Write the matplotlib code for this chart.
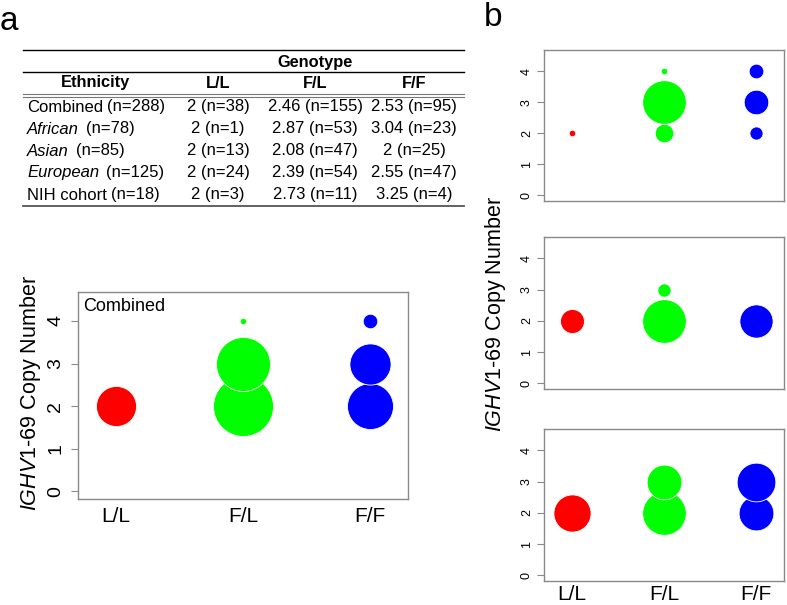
import matplotlib
matplotlib.use("Agg")
import matplotlib.pyplot as plt
import numpy as np
from matplotlib.lines import Line2D

plt.rcParams['font.family'] = ['Liberation Sans', 'DejaVu Sans']
plt.rcParams['mathtext.fontset'] = 'custom'
plt.rcParams['mathtext.rm'] = 'Liberation Sans'
plt.rcParams['mathtext.it'] = 'Liberation Sans:italic'

W, H = 787, 605
DPI = 100

# ---------------- data ----------------
genotypes = ["L/L", "F/L", "F/F"]
colors = ["#FF0000", "#00FF00", "#0000FF"]
copy_levels = [2, 3, 4]

# counts of individuals at copy number 2, 3, 4 for each genotype
combined_counts = {"L/L": [38, 0, 0], "F/L": [85, 69, 1], "F/F": [50, 40, 5]}
african_counts = {"L/L": [1, 0, 0], "F/L": [8, 44, 1], "F/F": [4, 14, 5]}
asian_counts = {"L/L": [13, 0, 0], "F/L": [43, 4, 0], "F/F": [25, 0, 0]}
european_counts = {"L/L": [24, 0, 0], "F/L": [33, 21, 0], "F/F": [21, 26, 0]}

table_header = ["Ethnicity", "L/L", "F/L", "F/F"]
table_ethnicity = ["Combined", "African", "Asian", "European", "NIH cohort"]
table_ethnicity_n = ["(n=288)", "(n=78)", "(n=85)", "(n=125)", "(n=18)"]
table_italic = [False, True, True, True, False]
table_LL = ["2 (n=38)", "2 (n=1)", "2 (n=13)", "2 (n=24)", "2 (n=3)"]
table_FL = ["2.46 (n=155)", "2.87 (n=53)", "2.08 (n=47)", "2.39 (n=54)", "2.73 (n=11)"]
table_FF = ["2.53 (n=95)", "3.04 (n=23)", "2 (n=25)", "2.55 (n=47)", "3.25 (n=4)"]

ylabel = r"$\mathit{IGHV1}$-$\mathit{69}$ Copy Number"

fig = plt.figure(figsize=(W / DPI, H / DPI), dpi=DPI)


def fx(x):
    return x / W


def fy(y):
    return 1 - y / H


def axes_px(x0, y0, x1, y1):
    return fig.add_axes([fx(x0), fy(y1), (x1 - x0) / W, (y1 - y0) / H])


def bubble(ax, counts, rmax_px, tick_fs, show_x, xt_fs, xpad=6,
           tlen=5, ypad=3):
    maxc = max(max(v) for v in counts.values())
    for i, g in enumerate(genotypes):
        for cn, c in zip(copy_levels, counts[g]):
            if c <= 0:
                continue
            r = rmax_px * np.sqrt(c / maxc)
            d_pt = 2 * r * 72 / DPI
            ax.scatter([i + 1], [cn], s=d_pt ** 2, color=colors[i],
                       edgecolors="white", linewidths=0.6, zorder=3)
    ax.set_xlim(0.7, 3.3)
    ax.set_ylim(-0.18, 4.68)
    ax.set_yticks([0, 1, 2, 3, 4])
    ax.set_yticklabels(["0", "1", "2", "3", "4"], rotation=90, va="center",
                       fontsize=tick_fs)
    ax.tick_params(axis="y", direction="out", length=tlen, width=0.8,
                   color="#888888", pad=ypad)
    ax.tick_params(axis="x", length=0)
    if show_x:
        ax.set_xticks([1, 2, 3])
        ax.set_xticklabels(genotypes, fontsize=xt_fs)
        ax.tick_params(axis="x", pad=xpad)
    else:
        ax.set_xticks([])
    for sp in ax.spines.values():
        sp.set_color("#888888")
        sp.set_linewidth(1.0)


# ---------------- panel labels ----------------
fig.text(fx(0), fy(21), "a", fontsize=24, va="center", ha="left")
fig.text(fx(484), fy(17), "b", fontsize=24, va="center", ha="left")

# ---------------- table ----------------
tl, tr = 23, 464
def hline(y, color="black", lw=1.0):
    fig.add_artist(Line2D([fx(tl), fx(tr)], [fy(y), fy(y)], color=color, lw=lw))

hline(50, "black", 1.0)
hline(72, "black", 1.0)
hline(93.5, "#777777", 0.8)
hline(96.5, "#777777", 0.8)
hline(206, "#555555", 1.3)

tfs = 12
hfs = 11.8
col_x = [95, 218, 315, 414]
fig.text(fx(315), fy(62), "Genotype", fontsize=hfs, fontweight="bold",
         ha="center", va="center")
for x, h in zip(col_x, table_header):
    fig.text(fx(x), fy(83), h, fontsize=hfs, fontweight="bold",
             ha="center", va="center")
row_y = [107, 129, 151, 173, 195]
fig.canvas.draw()
renderer = fig.canvas.get_renderer()
for k, y in enumerate(row_y):
    style = "italic" if table_italic[k] else "normal"
    t = fig.text(fx(27), fy(y), table_ethnicity[k], fontsize=tfs, style=style,
                 ha="left", va="center")
    bb = t.get_window_extent(renderer=renderer)
    gap = 7 if table_italic[k] else 4
    fig.text(fx(bb.x1 + gap), fy(y), table_ethnicity_n[k], fontsize=tfs,
             ha="left", va="center")
    fig.text(fx(col_x[1]), fy(y), table_LL[k], fontsize=tfs, ha="center", va="center")
    fig.text(fx(col_x[2]), fy(y), table_FL[k], fontsize=tfs, ha="center", va="center")
    fig.text(fx(col_x[3]), fy(y), table_FF[k], fontsize=tfs, ha="center", va="center")

# ---------------- panel a bubble ----------------
axa = axes_px(78, 292, 408, 499)
bubble(axa, combined_counts, 30, 14, True, 15, tlen=5, ypad=5)
axa.text(0.015, 0.97, "Combined", transform=axa.transAxes, fontsize=13,
         ha="left", va="top")
fig.text(fx(31), fy(393), ylabel, rotation=90, fontsize=15.5,
         ha="center", va="center")

# ---------------- panel b ----------------
axb1 = axes_px(544, 50, 784, 201)
bubble(axb1, african_counts, 21.8, 9, False, 15)
axb2 = axes_px(544, 237, 784, 389)
bubble(axb2, asian_counts, 21.8, 9, False, 15)
axb3 = axes_px(544, 429, 784, 581)
bubble(axb3, european_counts, 21.8, 9, True, 15, xpad=3)
fig.text(fx(495), fy(314), ylabel, rotation=90, fontsize=15.5,
         ha="center", va="center")

fig.savefig("out.png", dpi=DPI)
